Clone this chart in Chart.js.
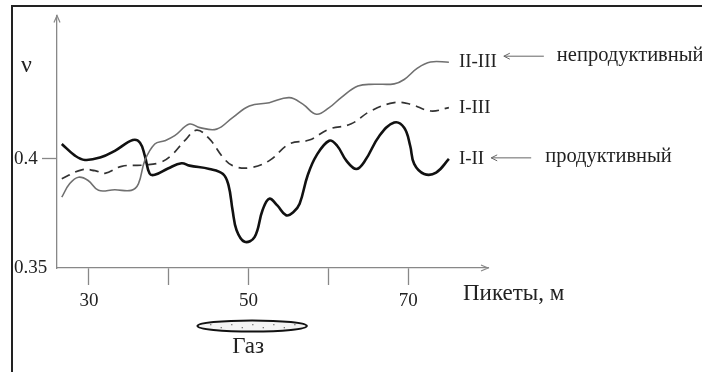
<!DOCTYPE html>
<html>
<head>
<meta charset="utf-8">
<script src="https://cdn.jsdelivr.net/npm/chart.js@4/dist/chart.umd.min.js"></script>
<style>
html,body{margin:0;padding:0;background:#fff;}
#wrap{position:relative;width:702px;height:372px;}
</style>
</head>
<body>
<div id="wrap"><canvas id="c" width="702" height="372"></canvas></div>
<script>
// ---- data ----
const seriesNames = ['II-III', 'I-III', 'I-II'];
const xTicks = [30, 40, 50, 60, 70];
const xTickLabels = ['30', '', '50', '', '70'];
const yTicks = [0.35, 0.4];
const yTickLabels = ['0.35', '0.4'];
const calloutTexts = ['непродуктивный', 'продуктивный'];
const axisTitleX = 'Пикеты, м';
const axisTitleY = 'ν';
const gasLabel = 'Газ';
const gasFrom = 43.6, gasTo = 57.3;

const pikII_III = [26.6,27.6,28.7,29.9,31.2,33.25,35.3,36.2,37.0,38.25,39.5,40.75,42.6,43.9,46.0,48.0,50.1,52.6,55.1,56.8,58.5,60.1,61.6,63.7,65.75,68.25,69.5,71.2,72.8,75.1];
const nuII_III  = [0.3824,0.3886,0.3915,0.3900,0.3855,0.3858,0.3855,0.3885,0.3991,0.4067,0.4082,0.4105,0.4158,0.4142,0.4135,0.4188,0.4241,0.4256,0.4279,0.4249,0.4203,0.4233,0.4279,0.4332,0.4340,0.4342,0.4362,0.4415,0.4442,0.4441];

const pikI_III = [26.6,29.1,30.75,32.0,34.1,37.0,38.9,40.3,42.0,43.5,45.1,46.8,48.0,50.1,52.6,55.1,57.6,60.1,62.8,65.3,68.25,70.3,72.8,75.1];
const nuI_III  = [0.3908,0.3949,0.3945,0.3933,0.3965,0.3971,0.3982,0.4014,0.4082,0.4130,0.4090,0.4006,0.3968,0.3958,0.3991,0.4067,0.4085,0.4135,0.4158,0.4218,0.4256,0.4249,0.4218,0.4233];

const pikI_II = [26.6,28.25,29.5,31.4,33.25,35.5,36.4,37.0,37.6,38.25,39.9,41.6,42.6,45.1,46.8,47.5,48.0,48.5,49.5,50.75,51.75,52.6,53.6,54.7,55.6,56.4,57.4,58.5,60.1,61.1,62.25,63.5,64.6,66.4,68.25,69.5,70.25,70.75,72.0,73.5,75.1];
const nuI_II  = [0.4067,0.4014,0.3994,0.4005,0.4036,0.4085,0.4073,0.4014,0.3932,0.3926,0.3955,0.3979,0.3968,0.3953,0.3930,0.3877,0.3764,0.3673,0.3620,0.3641,0.3764,0.3817,0.3786,0.3741,0.3755,0.3794,0.3923,0.4014,0.4082,0.4059,0.3991,0.3953,0.3991,0.4105,0.4165,0.4141,0.4059,0.3976,0.3930,0.3936,0.3999];

const pts = (xs, ys) => xs.map((x, i) => ({x: x, y: ys[i]}));
const FONT = '"Liberation Serif", "DejaVu Serif", serif';

const extras = {
  id: 'extras',
  afterDraw(chart) {
    const ctx = chart.ctx;
    const xs = chart.scales.x;
    const ca = chart.chartArea;
    ctx.save();
    // outer frame (left & top)
    ctx.strokeStyle = '#222'; ctx.lineWidth = 2;
    ctx.beginPath(); ctx.moveTo(12, 380); ctx.lineTo(12, 6); ctx.lineTo(710, 6); ctx.stroke();

    // axis arrows
    ctx.strokeStyle = '#888'; ctx.lineWidth = 1.2;
    ctx.beginPath();
    ctx.moveTo(ca.left - 3, ca.top + 7); ctx.lineTo(ca.left, ca.top); ctx.lineTo(ca.left + 3, ca.top + 7);
    ctx.moveTo(ca.right - 7, ca.bottom - 3); ctx.lineTo(ca.right, ca.bottom); ctx.lineTo(ca.right - 7, ca.bottom + 3);
    ctx.stroke();

    // series labels at line ends
    ctx.fillStyle = '#222';
    ctx.font = '19px ' + FONT;
    ctx.textBaseline = 'middle'; ctx.textAlign = 'left';
    const ends = [];
    chart.data.datasets.forEach((ds, i) => {
      const meta = chart.getDatasetMeta(i);
      const p = meta.data[meta.data.length - 1];
      ctx.fillText(seriesNames[i], p.x + 10, p.y);
      ends.push({x: p.x + 10 + ctx.measureText(seriesNames[i]).width, y: p.y});
    });

    // callout arrows
    function arrow(x1, x2, y) {
      ctx.strokeStyle = '#666'; ctx.lineWidth = 1;
      ctx.beginPath(); ctx.moveTo(x1, y); ctx.lineTo(x2, y);
      ctx.moveTo(x2 + 6, y - 3); ctx.lineTo(x2, y); ctx.lineTo(x2 + 6, y + 3);
      ctx.stroke();
    }
    const e0 = ends[0], e2 = ends[2];
    arrow(e0.x + 47, e0.x + 7, e0.y - 6);
    ctx.font = '20.5px ' + FONT;
    ctx.fillText(calloutTexts[0], e0.x + 60, e0.y - 7);
    arrow(e2.x + 47, e2.x + 7, e2.y - 1);
    ctx.fillText(calloutTexts[1], e2.x + 61, e2.y - 2);

    // axis titles
    ctx.font = '23px ' + FONT;
    ctx.fillText(axisTitleX, ca.right - 25, ca.bottom + 26);
    ctx.font = '24px ' + FONT;
    ctx.fillText(axisTitleY, 21, 66);

    // gas lens
    const gx1 = xs.getPixelForValue(gasFrom), gx2 = xs.getPixelForValue(gasTo);
    const gcx = (gx1 + gx2) / 2, gcy = ca.bottom + 58, rx = (gx2 - gx1) / 2, ry = 5.5;
    ctx.beginPath(); ctx.ellipse(gcx, gcy, rx, ry, 0, 0, Math.PI * 2);
    ctx.fillStyle = '#f3f3f3'; ctx.fill();
    ctx.strokeStyle = '#111'; ctx.lineWidth = 2; ctx.stroke();
    ctx.fillStyle = '#777';
    for (let k = -4; k <= 4; k++) {
      ctx.fillRect(gcx + k * rx / 5.2, gcy - 2 + (k % 2 ? 3 : 0), 1.3, 1.3);
    }
    ctx.fillStyle = '#222';
    ctx.font = '23px ' + FONT;
    ctx.textAlign = 'left';
    ctx.fillText(gasLabel, gcx - 20, gcy + 21);
    ctx.restore();
  }
};

new Chart(document.getElementById('c'), {
  type: 'line',
  data: {
    datasets: [
      {label: seriesNames[0], data: pts(pikII_III, nuII_III), borderColor: '#707070', borderWidth: 1.6, pointRadius: 0, tension: 0.4, fill: false},
      {label: seriesNames[1], data: pts(pikI_III, nuI_III), borderColor: '#333', borderWidth: 1.7, borderDash: [9, 6], pointRadius: 0, tension: 0.4, fill: false},
      {label: seriesNames[2], data: pts(pikI_II, nuI_II), borderColor: '#111', borderWidth: 2.6, pointRadius: 0, tension: 0.4, fill: false}
    ]
  },
  options: {
    responsive: false,
    animation: false,
    events: [],
    layout: {padding: {left: 14, top: 14, right: 214, bottom: 0}},
    plugins: {legend: {display: false}, tooltip: {enabled: false}},
    scales: {
      x: {
        type: 'linear', min: 26, max: 80,
        afterBuildTicks: (s) => { s.ticks = xTicks.map(v => ({value: v})); },
        afterFit: (s) => { s.height = 104; },
        border: {color: '#888', width: 1.3},
        grid: {drawOnChartArea: false, tickLength: 17, tickColor: '#888', tickWidth: 1.3},
        ticks: {
          padding: 5, color: '#222', maxRotation: 0, autoSkip: false,
          font: {family: FONT, size: 19},
          callback: (v) => xTickLabels[xTicks.indexOf(v)] ?? ''
        }
      },
      y: {
        type: 'linear', min: 0.35, max: 0.4655,
        afterBuildTicks: (s) => { s.ticks = yTicks.map(v => ({value: v})); },
        afterFit: (s) => { s.width = 43; },
        border: {color: '#888', width: 1.3},
        grid: {drawOnChartArea: false, tickLength: 15, tickWidth: 1.3,
               tickColor: (c) => (c.tick && c.tick.value === 0.4) ? '#888' : 'rgba(0,0,0,0)'},
        ticks: {
          crossAlign: 'far', padding: 4, color: '#222', autoSkip: false,
          font: {family: FONT, size: 19},
          callback: (v) => yTickLabels[yTicks.indexOf(v)] ?? ''
        }
      }
    }
  },
  plugins: [extras]
});
</script>
</body>
</html>
